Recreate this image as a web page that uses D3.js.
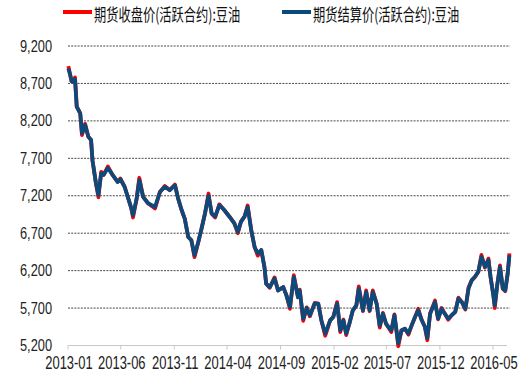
<!DOCTYPE html>
<html>
<head>
<meta charset="utf-8">
<script src="https://cdn.jsdelivr.net/npm/d3@7"></script>
<style>
	html, body { margin: 0; padding: 0; background: #ffffff; }
	svg { display: block; }
</style>
</head>
<body>
<div id="chart"></div>
<script>
// series names
const seriesNames = ["期货收盘价(活跃合约):豆油", "期货结算价(活跃合约):豆油"];

// sampled trading dates
const dates = [
	"2013-01-02","2013-01-07","2013-01-11","2013-01-18","2013-01-21","2013-01-26","2013-02-05","2013-02-10","2013-02-19","2013-02-28",
	"2013-03-08","2013-03-12","2013-03-22","2013-03-29","2013-04-06","2013-04-13","2013-04-25","2013-05-09","2013-05-23","2013-05-31",
	"2013-06-12","2013-06-21","2013-07-01","2013-07-06","2013-07-16","2013-07-24","2013-08-04","2013-08-18","2013-09-07","2013-09-21",
	"2013-10-05","2013-10-19","2013-11-03","2013-11-12","2013-11-22","2013-12-01","2013-12-11","2013-12-20","2013-12-29","2014-01-09",
	"2014-01-18","2014-01-28","2014-02-07","2014-02-16","2014-02-26","2014-03-10","2014-03-24","2014-04-08","2014-04-22","2014-05-02",
	"2014-05-11","2014-05-21","2014-05-30","2014-06-10","2014-06-19","2014-06-28","2014-07-08","2014-07-17","2014-07-22","2014-08-01",
	"2014-08-15","2014-08-25","2014-09-09","2014-09-18","2014-09-28","2014-10-09","2014-10-21","2014-10-26","2014-11-05","2014-11-15",
	"2014-11-24","2014-12-08","2014-12-18","2014-12-27","2015-01-07","2015-01-21","2015-01-30","2015-02-10","2015-02-19","2015-02-28",
	"2015-03-08","2015-03-17","2015-03-27","2015-04-06","2015-04-13","2015-04-25","2015-05-04","2015-05-14","2015-05-23","2015-06-03",
	"2015-06-12","2015-06-21","2015-06-30","2015-07-15","2015-07-24","2015-08-04","2015-08-13","2015-08-23","2015-09-02","2015-09-11",
	"2015-09-21","2015-09-30","2015-10-10","2015-10-19","2015-10-26","2015-11-03","2015-11-17","2015-11-26","2015-12-06","2015-12-15",
	"2015-12-25","2016-01-04","2016-01-14","2016-01-23","2016-02-02","2016-02-12","2016-02-21","2016-03-01","2016-03-10","2016-03-20",
	"2016-03-29","2016-04-08","2016-04-18","2016-04-24","2016-05-02","2016-05-06","2016-05-13","2016-05-21","2016-05-29","2016-06-05",
	"2016-06-12","2016-06-17"
];

// closing price (red)
const closePrices = [
	8930,8820,8730,8720,8780,8390,8300,8010,8160,7990,
	7945,7675,7365,7180,7520,7480,7590,7475,7385,7430,
	7320,7185,7035,6910,7150,7440,7185,7100,7030,7250,
	7330,7275,7350,7165,7010,6895,6650,6605,6380,6585,
	6760,6965,7230,6960,6910,7085,7010,6920,6830,6700,
	6855,6920,7070,6720,6515,6400,6475,6250,6025,5970,
	6110,5935,5980,5870,5690,6140,5845,5945,5530,5710,
	5590,5770,5760,5535,5330,5535,5580,5780,5380,5545,
	5340,5490,5670,5735,5990,5660,5935,5660,5935,5760,
	5440,5635,5490,5380,5615,5190,5400,5425,5345,5465,
	5580,5690,5540,5450,5270,5625,5800,5550,5700,5625,
	5545,5605,5650,5840,5780,5680,5975,6070,6115,6185,
	6410,6240,6360,6115,5870,5700,6005,6270,5960,5925,
	6160,6430
];

// settlement price (blue)
const settlePrices = [
	8900,8820,8730,8720,8760,8390,8300,8035,8145,7990,
	7945,7675,7365,7210,7500,7480,7570,7475,7385,7420,
	7320,7185,7035,6940,7150,7410,7185,7100,7050,7250,
	7320,7275,7340,7165,7010,6895,6650,6605,6405,6585,
	6760,6965,7200,6965,6920,7075,7010,6920,6830,6720,
	6855,6920,7050,6720,6515,6430,6475,6250,6025,5980,
	6095,5935,5980,5870,5715,6115,5845,5935,5560,5700,
	5605,5760,5760,5535,5360,5535,5580,5760,5400,5535,
	5360,5490,5670,5735,5960,5670,5915,5670,5915,5760,
	5465,5625,5490,5400,5605,5230,5400,5425,5360,5465,
	5580,5670,5540,5450,5300,5625,5780,5560,5690,5625,
	5560,5605,5650,5825,5780,5690,5960,6070,6115,6185,
	6385,6250,6340,6115,5870,5735,6005,6250,5960,5935,
	6160,6405
];

const yTicks = [5200, 5700, 6200, 6700, 7200, 7700, 8200, 8700, 9200];
const xTickLabels = ["2013-01","2013-06","2013-11","2014-04","2014-09","2015-02","2015-07","2015-12","2016-05"];

const width = 527;
const height = 375;
const parseDay = d3.timeParse("%Y-%m-%d");
const parseMonth = d3.timeParse("%Y-%m");

const svg = d3
	.select("#chart")
	.append("svg")
	.attr("width", width)
	.attr("height", height);

const x = d3
	.scaleTime()
	.domain([parseMonth("2013-01"), parseMonth("2016-05")])
	.range([68, 493]);

const y = d3.scaleLinear().domain([5200, 9200]).range([345.5, 46]);

const fmt = d3.format(",");

//gridlines
svg
	.append("g")
	.selectAll("line")
	.data(yTicks.filter(d => d !== 5200))
	.enter()
	.append("line")
	.attr("x1", 68)
	.attr("x2", 510)
	.attr("y1", d => y(d))
	.attr("y2", d => y(d))
	.attr("stroke", "#4a4a4a")
	.attr("stroke-width", 1)
	.attr("stroke-dasharray", "2,1.2");

//x axis line and ticks
svg
	.append("line")
	.attr("x1", 68)
	.attr("x2", 507)
	.attr("y1", y(5200))
	.attr("y2", y(5200))
	.attr("stroke", "#c8c8c8")
	.attr("stroke-width", 1);

svg
	.append("g")
	.selectAll("line")
	.data(xTickLabels)
	.enter()
	.append("line")
	.attr("x1", d => x(parseMonth(d)))
	.attr("x2", d => x(parseMonth(d)))
	.attr("y1", y(5200))
	.attr("y2", y(5200) + 4)
	.attr("stroke", "#c8c8c8");

//y labels
svg
	.append("g")
	.selectAll("text")
	.data(yTicks)
	.enter()
	.append("text")
	.attr("transform", d => `translate(52, ${y(d) + 5.5}) scale(0.8, 1)`)
	.attr("text-anchor", "end")
	.attr("font-family", "Liberation Sans, Arial, sans-serif")
	.attr("font-size", 16)
	.attr("fill", "#222")
	.text(d => fmt(d));

//x labels
svg
	.append("g")
	.selectAll("text")
	.data(xTickLabels)
	.enter()
	.append("text")
	.attr("transform", d => `translate(${x(parseMonth(d)) + 1}, 369) scale(0.72, 1)`)
	.attr("text-anchor", "middle")
	.attr("font-family", "Liberation Sans, Arial, sans-serif")
	.attr("font-size", 18)
	.attr("fill", "#222")
	.text(d => d);

//lines
const closeData = dates.map((d, i) => ({ date: parseDay(d), value: closePrices[i] }));
const settleData = dates.map((d, i) => ({ date: parseDay(d), value: settlePrices[i] }));

const line = d3
	.line()
	.x(d => x(d.date))
	.y(d => y(d.value));

svg
	.append("path")
	.datum(closeData)
	.attr("d", line)
	.attr("fill", "none")
	.attr("stroke", "#ff0000")
	.attr("stroke-width", 3.8)
	.attr("stroke-linejoin", "round");

svg
	.append("path")
	.datum(settleData)
	.attr("d", line)
	.attr("fill", "none")
	.attr("stroke", "#0d4a7c")
	.attr("stroke-width", 3.8)
	.attr("stroke-linejoin", "round");

//legend
const legendColors = ["#ff0000", "#0d4a7c"];
const legendX = [63, 282];

const legend = svg
	.append("g")
	.selectAll("g")
	.data(seriesNames)
	.enter()
	.append("g")
	.attr("transform", (d, i) => `translate(${legendX[i]}, 0)`);

legend
	.append("line")
	.attr("x1", 0)
	.attr("x2", 29)
	.attr("y1", 12)
	.attr("y2", 12)
	.attr("stroke", (d, i) => legendColors[i])
	.attr("stroke-width", 4);

legend
	.append("text")
	.attr("transform", "translate(31, 20.5) scale(0.7, 1)")
	.attr("font-family", "Noto Sans CJK SC, sans-serif")
	.attr("font-size", 17.5)
	.attr("fill", "#111")
	.text(d => d);
</script>
</body>
</html>
